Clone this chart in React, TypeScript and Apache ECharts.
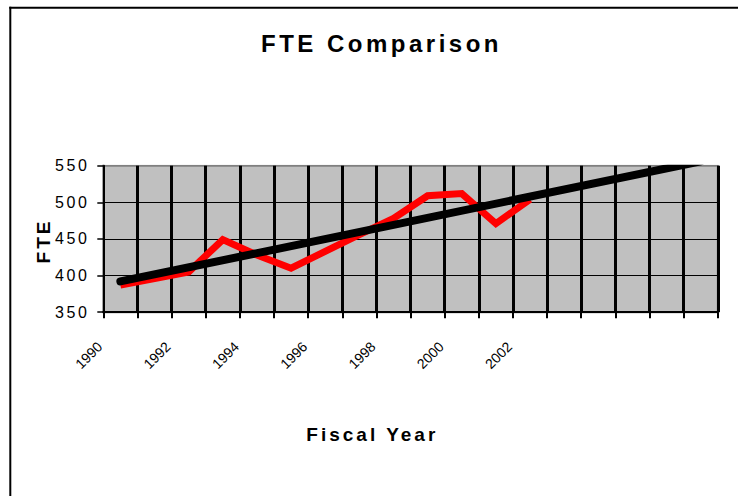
import React, { useEffect, useRef } from "react";
import * as echarts from "echarts";

// ---- data ----
const categories = [
  "1990", "1991", "1992", "1993", "1994", "1995", "1996", "1997", "1998",
  "1999", "2000", "2001", "2002", "", "", "", "", "",
];
const fteValues = [387, 396, 405, 449, 428, 410, 433, 456, 478, 509, 512, 471, 504];
// linear trend (with forecast) read at its two ends: 1990 and the last forecast period
const trendValues: (number | null)[] = [
  392, null, null, null, null, null, null, null, null,
  null, null, null, null, null, null, null, null, 556,
];
const yMin = 350;
const yMax = 550;
const yInterval = 50;
const chartTitle = "FTE Comparison";
const xAxisTitle = "Fiscal Year";
const yAxisTitle = "FTE";

const css = `
html, body { margin: 0; padding: 0; overflow: hidden; }
text[style*="24px"] { letter-spacing: 3.5px; }
text[style*="19px"] { letter-spacing: 3px; }
text[style*="16px"] { letter-spacing: 2.5px; }
`;

export default function App() {
  const ref = useRef<HTMLDivElement>(null);
  useEffect(() => {
    document.body.style.margin = "0";
    document.body.style.overflow = "hidden";
    const chart = echarts.init(ref.current!, null, { renderer: "svg" });
    const plotLeft = 103.3;
    const plotTop = 165.7;
    const plotW = 614.5;
    const plotH = 146.5;
    const catW = plotW / categories.length;
    chart.setOption({
      animation: false,
      grid: [
        {
          left: plotLeft, top: plotTop, width: plotW, height: plotH,
          show: true, backgroundColor: "#C0C0C0", borderColor: "#808080", borderWidth: 2,
          outerBoundsMode: "none",
        },
        {
          left: plotLeft - catW / 2 - 3.5, top: plotTop, width: plotW, height: plotH,
          show: false, outerBoundsMode: "none",
        },
      ],
      xAxis: [
        {
          type: "category", gridIndex: 0, data: categories, boundaryGap: true,
          axisLine: { show: true, onZero: false, lineStyle: { color: "#000", width: 2 } },
          axisTick: { show: true, interval: 0, length: 6, lineStyle: { color: "#000", width: 2 } },
          axisLabel: { show: false },
          splitLine: { show: true, interval: 0, showMinLine: false, showMaxLine: true, lineStyle: { color: "#000", width: 3 } },
        },
        {
          type: "category", gridIndex: 1, data: categories, boundaryGap: true,
          axisLine: { show: false }, axisTick: { show: false }, splitLine: { show: false },
          axisLabel: { show: true, interval: 1, rotate: 45, fontSize: 14, fontFamily: "Arial", color: "#000", margin: 32 },
        },
      ],
      yAxis: [
        {
          type: "value", gridIndex: 0, min: yMin, max: yMax, interval: yInterval,
          axisLine: { show: true, lineStyle: { color: "#000", width: 2 } },
          axisTick: { show: true, length: 6, lineStyle: { color: "#000", width: 1.5 } },
          axisLabel: { show: true, fontSize: 16, fontFamily: "Arial", color: "#000", margin: 14 },
          splitLine: { show: true, showMinLine: false, showMaxLine: false, lineStyle: { color: "#000", width: 1 } },
        },
        { type: "value", gridIndex: 1, min: yMin, max: yMax, interval: yInterval, show: false },
      ],
      series: [
        {
          type: "line", name: "FTE", xAxisIndex: 0, yAxisIndex: 0, data: fteValues,
          showSymbol: false, symbol: "none", z: 3,
          lineStyle: { color: "#FF0000", width: 7, join: "miter", cap: "butt" },
        },
        {
          type: "line", name: "Trend", xAxisIndex: 0, yAxisIndex: 0, data: trendValues,
          connectNulls: true, showSymbol: false, symbol: "none", z: 4,
          lineStyle: { color: "#000000", width: 8, cap: "round" },
        },
      ],
      graphic: [
        {
          type: "rect", silent: true, z: 100,
          shape: { x: plotLeft + 1, y: 140, width: 660, height: plotTop - 1 - 140 },
          style: { fill: "#ffffff" },
        },
        {
          type: "rect", silent: true, z: 101,
          shape: { x: 9.3, y: 6.7, width: 2, height: 489.3 },
          style: { fill: "#000" },
        },
        {
          type: "rect", silent: true, z: 101,
          shape: { x: 9.3, y: 6.7, width: 728.7, height: 2 },
          style: { fill: "#000" },
        },
        {
          type: "text", z: 102, x: 381.5, y: 43,
          style: { text: chartTitle, fontSize: 24, fontWeight: "bold", fontFamily: "Arial", fill: "#000", align: "center", verticalAlign: "middle" },
        },
        {
          type: "text", z: 102, x: 372.3, y: 434.7,
          style: { text: xAxisTitle, fontSize: 19, fontWeight: "bold", fontFamily: "Arial", fill: "#000", align: "center", verticalAlign: "middle" },
        },
        {
          type: "text", z: 102, x: 43.8, y: 241, rotation: Math.PI / 2,
          style: { text: yAxisTitle, fontSize: 19, fontWeight: "bold", fontFamily: "Arial", fill: "#000", align: "center", verticalAlign: "middle" },
        },
      ],
    });
    return () => chart.dispose();
  }, []);
  return (
    <>
      <style>{css}</style>
      <div ref={ref} style={{ width: 738, height: 496 }} />
    </>
  );
}
